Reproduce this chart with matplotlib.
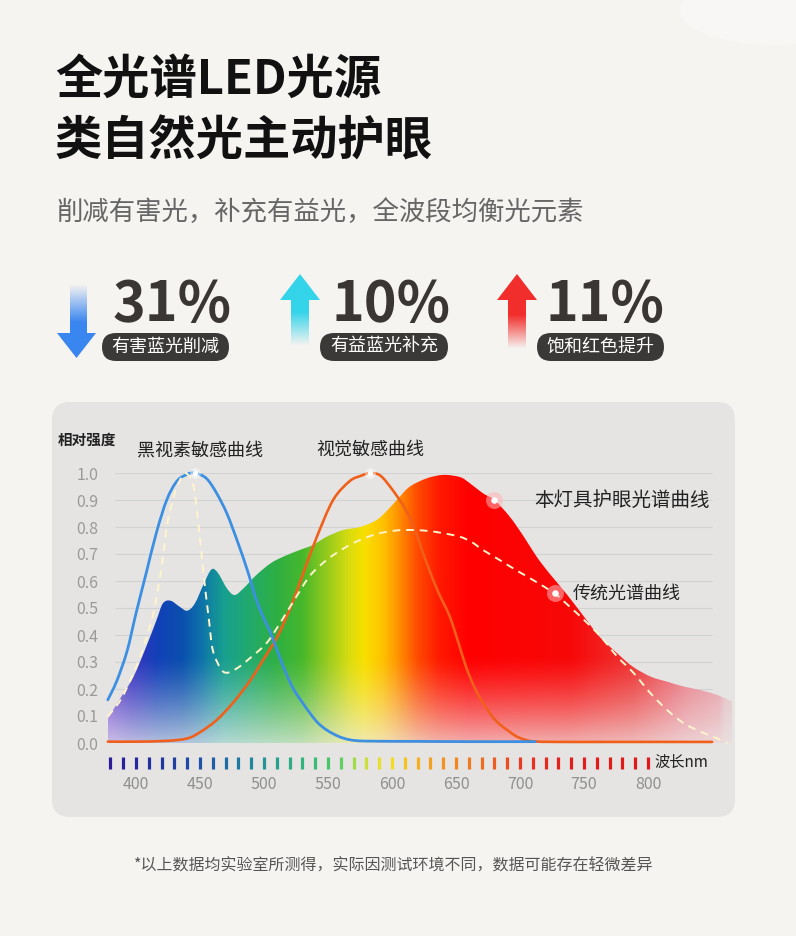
import numpy as np
import matplotlib.pyplot as plt
from matplotlib.patches import FancyBboxPatch, Polygon, Ellipse, PathPatch
from matplotlib.path import Path
from matplotlib.colors import LinearSegmentedColormap, to_rgb

plt.rcParams['font.family'] = ['Noto Sans CJK SC', 'DejaVu Sans']

# ---- data ----
blue_wl = [378, 385, 393, 400, 408, 416, 424, 432, 440, 446, 455, 463, 471, 479, 487,
           494, 500, 505, 512, 518, 523, 530, 536, 542, 549, 558, 567, 580, 620, 660, 712]
blue_val = [0.16, 0.23, 0.34, 0.48, 0.63, 0.78, 0.90, 0.97, 0.995, 1.0, 0.98, 0.925, 0.85, 0.75, 0.64,
            0.53, 0.46, 0.41, 0.32, 0.25, 0.20, 0.15, 0.11, 0.075, 0.048, 0.025, 0.012, 0.007, 0.006, 0.005, 0.005]

orange_wl = [378, 400, 424, 440, 450, 463, 476, 489, 497, 503, 510, 516, 523, 530, 541, 554, 567, 576,
             583, 591, 600, 610, 617, 623, 630, 637, 645, 652, 658, 665, 671, 678, 684, 691, 697, 704,
             711, 730, 780, 850]
orange_val = [0.005, 0.005, 0.008, 0.017, 0.04, 0.085, 0.15, 0.23, 0.29, 0.335, 0.39, 0.45, 0.53, 0.62,
              0.76, 0.90, 0.97, 0.99, 1.0, 0.99, 0.94, 0.87, 0.80, 0.72, 0.63, 0.55, 0.47, 0.37, 0.28,
              0.20, 0.15, 0.10, 0.07, 0.045, 0.025, 0.012, 0.006, 0.004, 0.004, 0.004]

led_wl = [378, 387, 398, 408, 416, 421, 427, 434, 440, 446, 453, 459, 464, 471, 477, 484, 494, 505,
          515, 528, 538, 549, 562, 575, 588, 598, 606, 614, 627, 640, 653, 660, 671, 680, 692, 703,
          713, 723, 736, 750, 762, 776, 788, 802, 815, 828, 841, 854, 866]
led_val = [0.09, 0.16, 0.245, 0.357, 0.455, 0.517, 0.527, 0.505, 0.49, 0.517, 0.59, 0.643, 0.63,
           0.573, 0.548, 0.573, 0.622, 0.665, 0.69, 0.715, 0.733, 0.764, 0.789, 0.80, 0.826, 0.87,
           0.912, 0.95, 0.98, 0.993, 0.985, 0.965, 0.925, 0.90, 0.838, 0.764, 0.69, 0.628, 0.554,
           0.468, 0.394, 0.332, 0.283, 0.246, 0.227, 0.209, 0.196, 0.178, 0.153]

trad_wl = [378, 388, 398, 406, 414, 420, 425, 431, 436, 440, 445, 449, 453, 457, 460, 466, 471, 479,
           489, 502, 512, 525, 536, 549, 562, 575, 588, 601, 614, 627, 640, 653, 662, 671, 684, 697,
           710, 727, 736, 750, 763, 776, 789, 802, 815, 828, 841, 854, 862]
trad_val = [0.098, 0.16, 0.258, 0.357, 0.49, 0.653, 0.826, 0.937, 0.986, 0.996, 0.95, 0.80, 0.616,
            0.456, 0.344, 0.277, 0.26, 0.277, 0.314, 0.37, 0.44, 0.54, 0.62, 0.678, 0.72, 0.752,
            0.774, 0.786, 0.789, 0.786, 0.777, 0.764, 0.745, 0.715, 0.678, 0.64, 0.604, 0.554,
            0.517, 0.456, 0.394, 0.32, 0.258, 0.184, 0.122, 0.073, 0.042, 0.017, 0.0]

y_ticks = [0.0, 0.1, 0.2, 0.3, 0.4, 0.5, 0.6, 0.7, 0.8, 0.9, 1.0]
x_ticks = [400, 450, 500, 550, 600, 650, 700, 750, 800]
dash_wl = list(range(380, 801, 10))

led_mark_wl = 680
trad_mark_wl = 727

stat_values = ['31%', '10%', '11%']
stat_labels = ['有害蓝光削减', '有益蓝光补充', '饱和红色提升']

title_lines = ['全光谱LED光源', '类自然光主动护眼']
subtitle = '削减有害光，补充有益光，全波段均衡光元素'
footnote = '*以上数据均实验室所测得，实际因测试环境不同，数据可能存在轻微差异'

# ---- colours ----
spec_stops = [(378, '#6b40d2'), (395, '#3a34c2'), (415, '#1240b8'), (435, '#0a4fae'),
              (452, '#0f78a8'), (468, '#17a08f'), (488, '#22aa6c'), (508, '#2daf45'),
              (530, '#48b82a'), (550, '#9ccc1c'), (565, '#d6dc10'), (578, '#f8e000'),
              (592, '#ffc200'), (606, '#ff8c00'), (620, '#ff4a00'), (636, '#ff1a00'),
              (660, '#ff0000'), (740, '#f80808'), (790, '#ee3434'), (830, '#ea7c88'),
              (866, '#e6aab0')]
dash_stops = [(380, '#2a1c9c'), (420, '#1f369e'), (455, '#1f58a8'), (485, '#1e80a0'),
              (515, '#2aa88a'), (545, '#3cc070'), (560, '#62d060'), (572, '#aee040'),
              (585, '#e2e030'), (600, '#f4dc20'), (615, '#f6b820'), (635, '#f39a20'),
              (660, '#f07a20'), (685, '#ec5420'), (710, '#e83020'), (740, '#e31c1c'),
              (800, '#e01818')]


def stops_cmap(stops, lo, hi):
    return LinearSegmentedColormap.from_list(
        'c', [((w - lo) / (hi - lo), c) for w, c in stops])


def smooth_verts(xs, ys):
    # cubic Bezier path through the read points (Catmull-Rom tangents)
    p = np.column_stack([xs, ys]).astype(float)
    n = len(p)
    verts = [p[0]]
    codes = [Path.MOVETO]
    for i in range(n - 1):
        p0 = p[max(i - 1, 0)]
        p1, p2 = p[i], p[i + 1]
        p3 = p[min(i + 2, n - 1)]
        verts += [p1 + (p2 - p0) / 6.0, p2 - (p3 - p1) / 6.0, p2]
        codes += [Path.CURVE4] * 3
    return verts, codes


def curve(ax, xs, ys, **kw):
    v, c = smooth_verts(xs, ys)
    patch = PathPatch(Path(v, c), fill=False, transform=ax.transData, **kw)
    ax.add_patch(patch)
    return patch


W, H = 796, 936
fig = plt.figure(figsize=(W / 100, H / 100), dpi=100)
fig.patch.set_facecolor('#f6f4f1')

bg = fig.add_axes([0, 0, 1, 1])
bg.axis('off')

# faint light patch in the top-right corner
bg.add_patch(Ellipse((775, 10), 190, 70, fc='white', ec='none', alpha=0.3))

# titles
bg.text(55, 80, title_lines[0], fontsize=34, fontweight='bold', color='#111111', va='center')
bg.text(55, 142, title_lines[1], fontsize=34, fontweight='bold', color='#111111', va='center')
bg.text(56, 212, subtitle, fontsize=19, color='#666666', va='center')

# stats row: arrows, numbers, pills
arrows = [
    dict(color='#3a86f0', shaft=(70, 87), top=284, bottom=333, head=(57, 96), tip=358, down=True),
    dict(color='#34d4ea', shaft=(291, 309), top=300, bottom=346, head=(280, 320), tip=274, down=False),
    dict(color='#f22e2c', shaft=(508, 526), top=300, bottom=349, head=(497, 537), tip=274, down=False),
]
for a in arrows:
    s0, s1 = a['shaft']
    h0, h1 = a['head']
    if a['down']:
        pts = [(s0, a['top']), (s1, a['top']), (s1, a['bottom']), (h1, a['bottom']),
               ((h0 + h1) / 2, a['tip']), (h0, a['bottom']), (s0, a['bottom'])]
        ymin, ymax = a['top'], a['tip']
        ys = np.linspace(ymin, ymax, 120)
        alpha = np.clip((ys - ymin) / 38.0, 0, 1)
    else:
        pts = [((h0 + h1) / 2, a['tip']), (h1, a['top']), (s1, a['top']), (s1, a['bottom']),
               (s0, a['bottom']), (s0, a['top']), (h0, a['top'])]
        ymin, ymax = a['tip'], a['bottom']
        ys = np.linspace(ymin, ymax, 120)
        alpha = np.clip((ymax - ys) / 34.0, 0, 1)
    rgba = np.zeros((len(ys), 2, 4))
    rgba[..., :3] = to_rgb(a['color'])
    rgba[..., 3] = alpha[:, None]
    poly = Polygon(pts, closed=True, fc='none', ec='none')
    bg.add_patch(poly)
    im = bg.imshow(rgba, extent=(h0 - 1, h1 + 1, ymax, ymin), origin='upper',
                   aspect='auto', interpolation='bilinear')
    im.set_clip_path(poly)

num_x = [113, 332, 546]
pill_x = [(102, 229), (320, 448), (537, 664)]
for nx, (p0, p1), val, lab in zip(num_x, pill_x, stat_values, stat_labels):
    bg.text(nx, 305, val, fontsize=40, fontweight='bold', color='#3a3633', va='center', ha='left')
    bg.add_patch(FancyBboxPatch((p0, 333), p1 - p0, 28,
                                boxstyle='round,pad=0,rounding_size=14',
                                fc='#3b3937', ec='none'))
    bg.text((p0 + p1) / 2, 346.5, lab, fontsize=13, color='white', ha='center', va='center')

# chart panel
bg.add_patch(FancyBboxPatch((52, 402), 683, 415, boxstyle='round,pad=0,rounding_size=18',
                            fc='#e5e4e3', ec='none'))

bg.text(394, 866, footnote, fontsize=11.5, color='#555555', ha='center', va='center')
bg.set_xlim(0, W)
bg.set_ylim(H, 0)

# ---- spectrum chart ----
X0, PX = 136, 1.28          # pixel of 400 nm, pixels per nm
wl_lo, wl_hi = 378, 866
left_px = X0 + (wl_lo - 400) * PX
right_px = X0 + (wl_hi - 400) * PX
ax = fig.add_axes([left_px / W, (H - 743) / H, (right_px - left_px) / W, 270 / H])
ax.patch.set_alpha(0)
ax.set_xlim(wl_lo, wl_hi)
ax.set_ylim(0, 1)
for sp in ax.spines.values():
    sp.set_visible(False)

ax.hlines(y_ticks[1:], 383.6, 850, color='#d2d2d2', lw=0.8, zorder=1)

# gradient fill under the LED curve
nx_img, ny_img = 500, 220
xs = np.linspace(wl_lo, wl_hi, nx_img)
vs = np.linspace(0, 1, ny_img)
cols = stops_cmap(spec_stops, wl_lo, wl_hi)((xs - wl_lo) / (wl_hi - wl_lo))[:, :3]
mix = 0.72 * np.clip(1 - vs / 0.32, 0, 1) ** 1.3
light = np.array(to_rgb('#efeeee'))
img = np.ones((ny_img, nx_img, 4))
img[..., :3] = cols[None, :, :] * (1 - mix[:, None, None]) + light * mix[:, None, None]
edge = np.clip((wl_hi - xs) / 10.0, 0.55, 1)
img[..., 3] = edge[None, :]

fv, fc = smooth_verts(led_wl, led_val)
fv += [(led_wl[-1], 0), (led_wl[0], 0), (led_wl[0], led_val[0])]
fc += [Path.LINETO, Path.LINETO, Path.CLOSEPOLY]
fill_patch = PathPatch(Path(fv, fc), fc='none', ec='none', transform=ax.transData)
ax.add_patch(fill_patch)
im = ax.imshow(img, extent=(wl_lo, wl_hi, 0, 1), origin='lower', aspect='auto',
               interpolation='bilinear', zorder=2)
im.set_clip_path(fill_patch)
ax.set_xlim(wl_lo, wl_hi)
ax.set_ylim(0, 1)

curve(ax, orange_wl, orange_val, ec='#f0601a', lw=1.9, zorder=4, clip_on=False, capstyle='round')
curve(ax, blue_wl, blue_val, ec='#3d8fe2', lw=2.0, zorder=5, clip_on=False, capstyle='round')
curve(ax, trad_wl, trad_val, ec='#fff4cc', lw=1.4, ls=(0, (4, 3)), zorder=6, clip_on=False)

# peak markers
bi = int(np.argmax(blue_val))
oi = int(np.argmax(orange_val))
for wx, wy in [(blue_wl[bi], blue_val[bi]), (orange_wl[oi], orange_val[oi])]:
    ax.scatter([wx], [wy], s=60, color='white', alpha=0.45, lw=0, zorder=7, clip_on=False)
    ax.scatter([wx], [wy], s=14, color='white', lw=0, zorder=8, clip_on=False)
led_mark_v = float(np.interp(led_mark_wl, led_wl, led_val))
trad_mark_v = float(np.interp(trad_mark_wl, trad_wl, trad_val))
for wx, wy in [(led_mark_wl, led_mark_v), (trad_mark_wl, trad_mark_v)]:
    ax.scatter([wx], [wy], s=150, color='#ffb4b4', alpha=0.55, lw=0, zorder=7)
    ax.scatter([wx], [wy], s=22, color='white', lw=0, zorder=8)

# curve labels
ax.text(blue_wl[bi] + 4, 1.085, '黑视素敏感曲线', fontsize=13, color='#222222', ha='center', va='center')
ax.text(orange_wl[oi], 1.085, '视觉敏感曲线', fontsize=13, color='#222222', ha='center', va='center')
ax.text(711, led_mark_v, '本灯具护眼光谱曲线', fontsize=14, color='#222222', ha='left', va='center')
ax.text(741, trad_mark_v, '传统光谱曲线', fontsize=13, color='#222222', ha='left', va='center')
ax.text(339, 1.122, '相对强度', fontsize=10.5, fontweight='bold', color='#222222', ha='left', va='center')
ax.text(805, -0.072, '波长nm', fontsize=11, color='#222222', ha='left', va='center')

# wavelength dashes
dash_cols = stops_cmap(dash_stops, 380, 800)((np.array(dash_wl) - 380) / 420.0)
ax.vlines(dash_wl, -0.097, -0.053, colors=dash_cols, lw=2.3, clip_on=False)

ax.set_yticks(y_ticks)
ax.set_yticklabels(['%.1f' % v for v in y_ticks])
ax.set_xticks(x_ticks)
ax.set_xticklabels([str(v) for v in x_ticks])
ax.tick_params(axis='y', length=0, pad=7, labelsize=11.5, labelcolor='#9a9a9a')
ax.tick_params(axis='x', length=0, pad=23.5, labelsize=11.5, labelcolor='#8f8f8f')

fig.savefig('out.png', dpi=100, facecolor=fig.get_facecolor())
